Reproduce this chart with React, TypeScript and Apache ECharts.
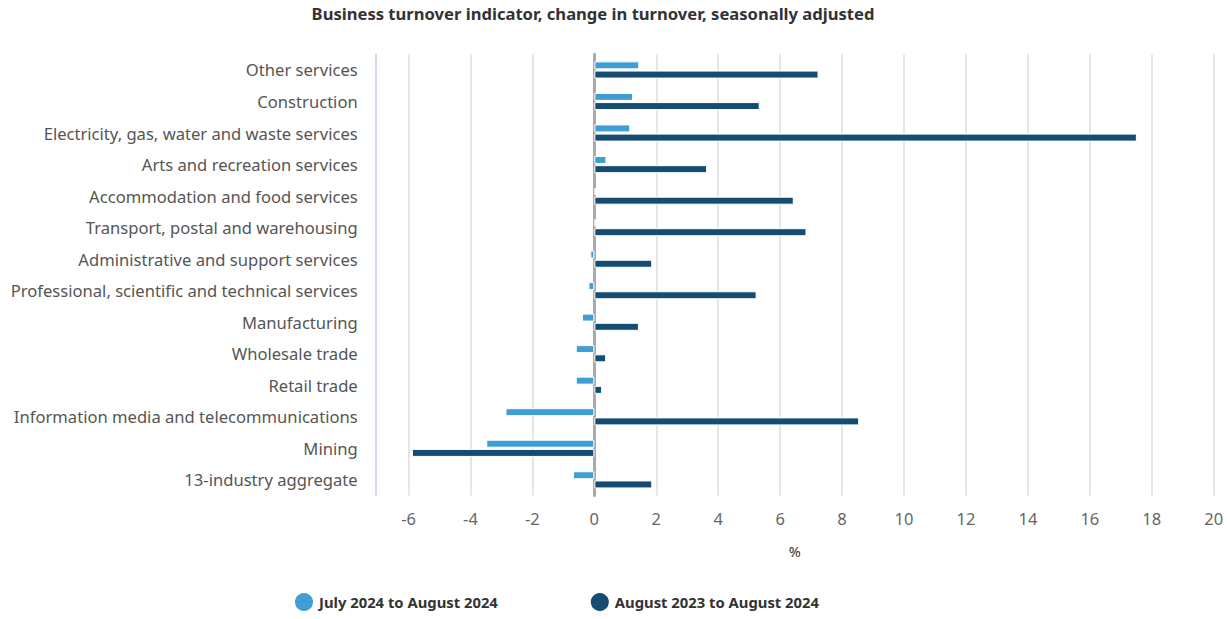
import React, { useEffect, useRef } from "react";
import * as echarts from "echarts";

const categories = [
  "Other services",
  "Construction",
  "Electricity, gas, water and waste services",
  "Arts and recreation services",
  "Accommodation and food services",
  "Transport, postal and warehousing",
  "Administrative and support services",
  "Professional, scientific and technical services",
  "Manufacturing",
  "Wholesale trade",
  "Retail trade",
  "Information media and telecommunications",
  "Mining",
  "13-industry aggregate",
];

const monthly = [1.45, 1.25, 1.16, 0.39, 0.05, 0.05, -0.13, -0.19, -0.4, -0.6, -0.6, -2.87, -3.49, -0.69];
const yearly = [7.24, 5.34, 17.52, 3.64, 6.44, 6.85, 1.87, 5.24, 1.44, 0.38, 0.25, 8.55, -5.89, 1.87];

const seriesNames = ["July 2024 to August 2024", "August 2023 to August 2024"];
const title = "Business turnover indicator, change in turnover, seasonally adjusted";
const xMin = -7.06;
const xMax = 20;

const FONT = "'Noto Sans', sans-serif";

export default function App() {
  const ref = useRef<HTMLDivElement>(null);
  useEffect(() => {
    if (!ref.current) return;
    const chart = echarts.init(ref.current, null, { renderer: "svg" });
    chart.setOption({
      animation: false,
      textStyle: { fontFamily: FONT },
      graphic: [
        {
          type: "text",
          x: 593,
          y: 13,
          style: {
            text: title,
            fontFamily: FONT,
            fontSize: 16.6,
            fontWeight: "bold",
            fill: "#333333",
            textAlign: "center",
            textVerticalAlign: "middle",
          },
        },
      ],
      legend: {
        left: 288,
        top: 586,
        icon: "circle",
        itemWidth: 20,
        itemHeight: 20,
        itemGap: 91,
        textStyle: { fontSize: 14.8, fontWeight: "bold", color: "#333333", fontFamily: FONT },
        data: seriesNames,
      },
      grid: { left: 375.7, right: 1227 - 1213.7, top: 54.2, bottom: 619 - 495.6, containLabel: false },
      xAxis: {
        type: "value",
        min: xMin,
        max: xMax,
        splitNumber: 13,
        name: "%",
        nameLocation: "middle",
        nameGap: 48,
        nameTextStyle: { fontSize: 14.5, color: "#333333", fontFamily: FONT },
        axisLine: { show: false },
        axisTick: { show: false },
        axisLabel: {
          margin: 14,
          fontSize: 16.5,
          color: "#666666",
          fontFamily: FONT,
          showMinLabel: false,
          formatter: (v: number) => (Math.abs(v / 2 - Math.round(v / 2)) < 1e-6 ? String(v) : ""),
        },
        splitLine: { show: true, lineStyle: { color: "#e6e6e6", width: 2 } },
      },
      yAxis: [
        {
          type: "category",
          data: categories,
          inverse: true,
          axisLine: { show: true, onZero: false, lineStyle: { color: "#ccd6eb", width: 1.5 } },
          axisTick: { show: false },
          axisLabel: { margin: 18, fontSize: 16.6, color: "#555555", fontFamily: FONT },
        },
        {
          type: "category",
          data: categories,
          inverse: true,
          position: "left",
          axisLine: { show: true, onZero: true, lineStyle: { color: "#aaaaaa", width: 3 } },
          axisTick: { show: false },
          axisLabel: { show: false },
        },
      ],
      series: [
        {
          name: seriesNames[0],
          type: "bar",
          data: monthly,
          barWidth: 8,
          barGap: "15%",
          itemStyle: { color: "#3f9fd4", borderColor: "#ffffff", borderWidth: 1 },
        },
        {
          name: seriesNames[1],
          type: "bar",
          data: yearly,
          barWidth: 8,
          barGap: "15%",
          itemStyle: { color: "#164c72", borderColor: "#ffffff", borderWidth: 1 },
        },
      ],
    });
    return () => chart.dispose();
  }, []);
  return (
    <div
      ref={ref}
      style={{ position: "fixed", left: 0, top: 0, width: 1227, height: 619, background: "#ffffff" }}
    />
  );
}
